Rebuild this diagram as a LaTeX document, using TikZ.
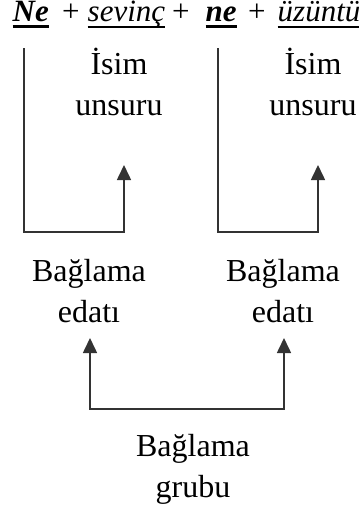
\documentclass[tikz,border=0pt]{standalone}
\usepackage{fontspec}
\setmainfont{Liberation Serif}
\usetikzlibrary{arrows.meta}
\newsavebox\myulbox
\newcommand{\myul}[2]{\sbox\myulbox{#2}\rlap{\usebox\myulbox}\rlap{\raisebox{-7pt}{\rule{\wd\myulbox}{#1}}}\hspace{\wd\myulbox}}
\tikzset{
  txt/.style={inner sep=0pt, font=\fontsize{32}{41}\selectfont, anchor=base},
  toptxt/.style={inner sep=0pt, font=\fontsize{31}{41}\selectfont, anchor=base west},
  lbl/.style={txt, align=center},
  conn/.style={draw=black!80, line width=1.6pt},
  tip/.style={-{Triangle[width=14pt,length=15pt]}}
}
\begin{document}
\begin{tikzpicture}[x=1pt,y=1pt]
\useasboundingbox (0,0) rectangle (359,-515);
% top line
\node[toptxt] (w1) at (12,-21) {\myul{3.5pt}{\textbf{\textit{Ne}}}};
\node[toptxt] (p1) at (62,-21) {+};
\node[toptxt] (w2) at (87,-21) {\myul{1.8pt}{\textit{sevinç}}};
\node[toptxt] (p2) at (172,-21) {+};
\node[toptxt] (w3) at (205,-21) {\myul{3.5pt}{\textbf{\textit{ne}}}};
\node[toptxt] (p3) at (248,-21) {+};
\node[toptxt] (w4) at (277,-21) {\myul{1.8pt}{\textit{üzüntü}}};
% labels (base = baseline of last line)
\node[lbl] (isim1) at (119,-115) {İsim\\unsuru};
\node[lbl] (isim2) at (313,-115) {İsim\\unsuru};
\node[lbl] (bag1) at (89,-322) {Bağlama\\edatı};
\node[lbl] (bag2) at (283,-322) {Bağlama\\edatı};
\node[lbl] (grup) at (193,-497) {Bağlama\\grubu};
% coordinates
\coordinate (t1) at (24,-48);
\coordinate (b1) at (124,-232);
\coordinate (a1) at (124,-165);
\coordinate (t2) at (218,-48);
\coordinate (b2) at (318,-232);
\coordinate (a2) at (318,-165);
\coordinate (a3) at (90,-338);
\coordinate (h3) at (90,-409);
\coordinate (a4) at (284,-338);
\coordinate (h4) at (284,-409);
% connectors
\draw[conn, tip] (t1) |- (b1) -- (a1);
\draw[conn, tip] (t2) |- (b2) -- (a2);
\draw[conn, {Triangle[width=14pt,length=15pt]}-{Triangle[width=14pt,length=15pt]}] (a3) -- (h3) -- (h4) -- (a4);
\end{tikzpicture}
\end{document}
